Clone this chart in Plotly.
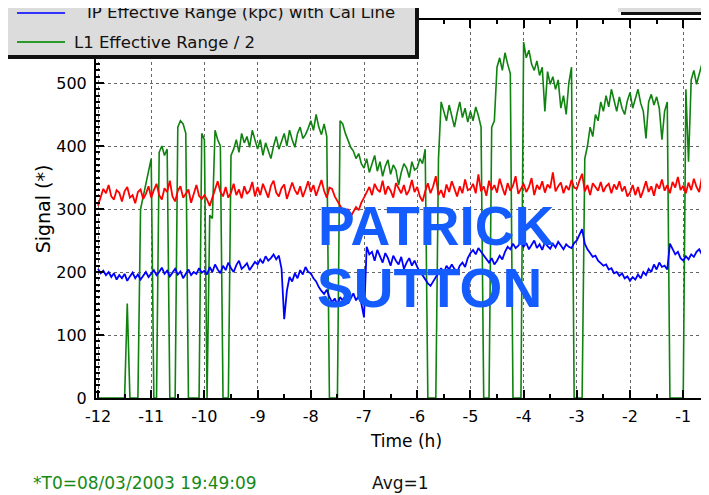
import numpy as np
import plotly.graph_objects as go

# sampling of the trend data (hours before T0)
T_START = -12.0
T_STEP = 0.05

# one row per hour, 20 samples each (last row -1.0 .. -0.5)
red_vals = [
    305, 318, 332, 325, 338, 320, 315, 330, 326, 312, 328, 335, 318, 322, 309, 327, 331, 316, 324, 336,
    318, 330, 340, 322, 315, 333, 327, 345, 320, 312, 329, 336, 318, 324, 331, 310, 326, 338, 321, 316,
    322, 315, 305, 318, 330, 344, 327, 320, 335, 318, 326, 340, 322, 331, 317, 336, 324, 329, 343, 320,
    335, 322, 340, 328, 318, 337, 345, 326, 320, 333, 339, 316, 328, 342, 330, 323, 336, 319, 331, 344,
    327, 338, 321, 335, 346, 329, 318, 334, 332, 320, 312, 305, 298, 292, 300, 288, 295, 303, 298, 310,
    318, 326, 335, 322, 340, 331, 327, 345, 323, 336, 329, 318, 341, 333, 325, 338, 322, 330, 346, 327,
    335, 320, 312, 328, 341, 325, 336, 352, 322, 330, 318, 339, 327, 344, 331, 320, 336, 325, 347, 330,
    332, 340, 325, 355, 328, 336, 321, 345, 330, 338, 326, 348, 334, 322, 341, 329, 337, 352, 324, 333,
    340, 327, 335, 349, 322, 338, 331, 344, 326, 339, 333, 358, 328, 336, 342, 325, 337, 330, 346, 334,
    332, 345, 356, 328, 338, 322, 341, 335, 329, 343, 327, 336, 340, 325, 339, 331, 344, 328, 336, 320,
    326, 338, 322, 335, 318, 330, 344, 327, 336, 321, 340, 332, 347, 329, 338, 325, 343, 334, 351, 330,
    337, 325, 342, 330, 348, 335, 327, 350, 338, 322, 310,
]

blue_vals = [
    205, 198, 202, 195, 200, 192, 198, 188, 195, 190, 197, 186, 193, 199, 190, 196, 188, 194, 200, 192,
    198, 203, 195, 200, 207, 197, 202, 193, 199, 205, 196, 201, 190, 198, 204, 195, 200, 197, 206, 199,
    202, 196, 208, 200, 212, 204, 198, 210, 203, 215, 206, 200, 211, 218, 205, 209, 214, 203, 210, 216,
    212, 220, 214, 225, 218, 222, 228, 220, 226, 205, 125, 170, 192, 185, 198, 190, 203, 196, 208, 200,
    198, 190, 185, 176, 170, 165, 172, 160, 152, 158, 148, 160, 155, 163, 150, 158, 166, 155, 162, 150,
    128, 240, 228, 232, 218, 235, 225, 215, 230, 222, 210, 226, 218, 212, 224, 205, 215, 222, 210, 218,
    208, 200, 195, 188, 182, 178, 185, 192, 200, 206, 198, 210, 204, 212, 205, 200, 210, 215, 208, 222,
    230, 235, 228, 238, 232, 226, 220, 215, 222, 212, 218, 226, 220, 232, 240, 236, 245, 238, 242, 248,
    240, 246, 236, 243, 250, 238, 244, 235, 247, 241, 237, 245, 239, 248, 242, 236, 244, 240, 238, 246,
    250, 258, 268, 245, 236, 230, 224, 226, 218, 214, 210, 212, 204, 206, 198, 200, 194, 198, 190, 193,
    186, 192, 188, 196, 190, 200, 195, 205, 200, 212, 204, 215, 208, 210, 204, 245, 236, 228, 232, 222,
    218, 225, 220, 228, 224, 232, 236, 228, 234, 238, 230,
]

green_vals = [
    0, 0, 0, 0, 0, 0, 0, 0, 0, 0, 0, 150, 0, 0, 0, 0, 300, 320, 345, 360,
    380, 0, 0, 390, 400, 385, 395, 0, 0, 0, 430, 440, 435, 420, 0, 0, 0, 0, 0, 420,
    410, 0, 290, 285, 425, 410, 400, 0, 0, 0, 385, 395, 410, 390, 420, 405, 415, 398, 425, 410,
    395, 410, 385, 405, 392, 380, 400, 415, 395, 408, 420, 400, 425, 410, 398, 420, 430, 412, 418, 428,
    440, 425, 450, 430, 418, 435, 415, 0, 0, 0, 0, 440, 435, 420, 410, 398, 392, 380, 388, 372,
    365, 380, 358, 372, 385, 360, 375, 352, 368, 378, 355, 370, 362, 338, 358, 372, 365, 350, 375, 362,
    365, 380, 372, 395, 0, 0, 0, 0, 380, 470, 455, 440, 465, 448, 430, 452, 470, 445, 460, 438,
    455, 440, 462, 448, 430, 0, 0, 0, 430, 440, 525, 540, 520, 548, 530, 515, 0, 0, 0, 0,
    565, 540, 552, 530, 520, 535, 512, 525, 455, 518, 498, 510, 490, 505, 460, 480, 450, 500, 525, 0,
    0, 0, 0, 380, 400, 430, 415, 450, 440, 470, 455, 480, 462, 490, 470, 455, 478, 460, 450, 472,
    485, 460, 475, 490, 468, 455, 412, 470, 482, 465, 478, 460, 410, 455, 470, 0, 0, 0, 0, 0,
    0, 490, 375, 505, 520, 498, 512, 530, 505, 518, 510,
]

x_ticks = [-12, -11, -10, -9, -8, -7, -6, -5, -4, -3, -2, -1]
y_ticks = [0, 100, 200, 300, 400, 500]

legend_labels = ["IP Effective Range (kpc) with Cal Line", "L1 Effective Range / 2"]
footer_left = "*T0=08/03/2003 19:49:09"
footer_right = "Avg=1"

t = np.round(T_START + T_STEP * np.arange(len(red_vals)), 2)

# the page body adds an 8px offset; plot area in figure pixels
OFF = 8
L, R, T, B = 88, 709, 12, 390
FONT = 'DejaVu Sans'


def px(x):
    # x in window pixels -> paper coords
    return (x - OFF - L) / (R - L)


def py(y):
    return (B - (y - OFF)) / (B - T)


fig = go.Figure()
fig.add_trace(go.Scatter(x=t, y=green_vals, mode='lines', name=legend_labels[1],
                         line=dict(color='#0f820f', width=1.6)))
fig.add_trace(go.Scatter(x=t, y=red_vals, mode='lines', name='red',
                         line=dict(color='#ff0000', width=1.8)))
fig.add_trace(go.Scatter(x=t, y=blue_vals, mode='lines', name=legend_labels[0],
                         line=dict(color='#0000ff', width=1.8)))

shapes = [
    # legend box with shadow
    dict(type='rect', xref='paper', yref='paper', x0=px(0), x1=px(419), y0=py(59), y1=py(-5),
         fillcolor='#111111', line=dict(width=0), layer='above'),
    dict(type='rect', xref='paper', yref='paper', x0=px(-5), x1=px(415), y0=py(55), y1=py(-5),
         fillcolor='#dcdcdc', line=dict(width=0), layer='above'),
    dict(type='line', xref='paper', yref='paper', x0=px(17), x1=px(65), y0=py(13), y1=py(13),
         line=dict(color='#3333ff', width=2), layer='above'),
    dict(type='line', xref='paper', yref='paper', x0=px(17), x1=px(65), y0=py(42), y1=py(42),
         line=dict(color='#2a9a2a', width=2), layer='above'),
    # small box top right
    dict(type='rect', xref='paper', yref='paper', x0=px(621), x1=px(720), y0=py(15), y1=py(-5),
         fillcolor='#111111', line=dict(width=0), layer='above'),
    dict(type='rect', xref='paper', yref='paper', x0=px(618), x1=px(720), y0=py(12), y1=py(-5),
         fillcolor='#dcdcdc', line=dict(width=0), layer='above'),
    dict(type='line', xref='paper', yref='paper', x0=px(673), x1=px(682), y0=py(6), y1=py(6),
         line=dict(color='#2222ff', width=2), layer='above'),
    dict(type='rect', xref='paper', yref='paper', x0=px(704), x1=px(720), y0=py(16), y1=py(9),
         fillcolor='#e0108a', line=dict(width=0), layer='above'),
]

annotations = [
    dict(text=legend_labels[0], x=px(85), y=py(12), xref='paper', yref='paper',
         xanchor='left', yanchor='middle', showarrow=False, font=dict(size=16.5, color='#111111')),
    dict(text=legend_labels[1], x=px(72), y=py(42), xref='paper', yref='paper',
         xanchor='left', yanchor='middle', showarrow=False, font=dict(size=16.5, color='#111111')),
    dict(text='<b>PATRICK</b>', x=px(436), y=py(226), xref='paper', yref='paper',
         xanchor='center', yanchor='middle', showarrow=False,
         font=dict(size=55, color='#155cff', family='Liberation Sans')),
    dict(text='<b>SUTTON</b>', x=px(430), y=py(288), xref='paper', yref='paper',
         xanchor='center', yanchor='middle', showarrow=False,
         font=dict(size=55, color='#155cff', family='Liberation Sans')),
    dict(text=footer_left, x=px(31), y=py(483), xref='paper', yref='paper',
         xanchor='left', yanchor='middle', showarrow=False, font=dict(size=17, color='#168a16')),
    dict(text=footer_right, x=px(370), y=py(483), xref='paper', yref='paper',
         xanchor='left', yanchor='middle', showarrow=False, font=dict(size=17, color='#111111')),
]

fig.update_layout(
    width=709, height=495,
    plot_bgcolor='white',
    paper_bgcolor='white',
    font=dict(family=FONT, color='#000000', size=16),
    margin=dict(l=L, r=709 - R, t=T, b=495 - B),
    showlegend=False,
    shapes=shapes,
    annotations=annotations,
)
fig.update_xaxes(
    range=[-12.0376, -0.365],
    tickvals=x_ticks,
    ticktext=[str(v) for v in x_ticks],
    ticks='inside', ticklen=8, tickwidth=1.5, tickcolor='#000000',
    minor=dict(ticks='inside', ticklen=4, dtick=0.5, tick0=-12, tickcolor='#000000', showgrid=False),
    showline=True, linewidth=2, linecolor='#000000', mirror='ticks',
    showgrid=True, gridcolor='#666666', griddash='dot', gridwidth=1,
    zeroline=False,
    title=dict(text='Time (h)', standoff=10, font=dict(size=17)),
    tickfont=dict(size=16),
    ticklabelstandoff=3,
    automargin=False,
)
fig.update_yaxes(
    range=[0, 600],
    tickvals=y_ticks,
    ticks='inside', ticklen=8, tickwidth=1.5, tickcolor='#000000',
    minor=dict(ticks='inside', ticklen=4, dtick=10, tick0=0, tickcolor='#000000', showgrid=False),
    showline=True, linewidth=2, linecolor='#000000',
    showgrid=True, gridcolor='#666666', griddash='dot', gridwidth=1,
    zeroline=False,
    title=dict(text='Signal (*)', standoff=1, font=dict(size=19)),
    tickfont=dict(size=16),
    ticklabelstandoff=4,
    automargin=False,
)

fig.write_html("out.html")
